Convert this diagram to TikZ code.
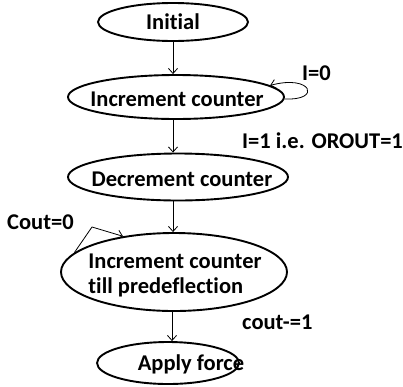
\documentclass[tikz,border=0pt]{standalone}
\usepackage{fontspec}
\setmainfont{Carlito}[Ligatures=NoCommon]
\usetikzlibrary{shapes.geometric,arrows.meta}
\begin{document}
\begin{tikzpicture}[x=1pt,y=-1pt,
  state/.style={draw,ellipse,line width=1.9pt,inner sep=0pt},
  txt/.style={font=\fontsize{22.5}{25}\selectfont\bfseries,inner sep=0pt},
  flow/.style={line width=0.8pt,-{Straight Barb[length=5pt,width=9pt]}},
]
\useasboundingbox (0,0) rectangle (403,386);

% states
\node[state,minimum width=150pt,minimum height=38pt] (init) at (173,22) {};
\node[state,minimum width=216pt,minimum height=44pt] (inc) at (176,97) {};
\node[state,minimum width=220pt,minimum height=47pt] (dec) at (178,177) {};
\node[state,minimum width=226pt,minimum height=78pt] (till) at (174,272) {};
\node[state,minimum width=142pt,minimum height=42pt] (apply) at (168,363) {};

% state texts
\node[txt] (tinit) at (173,22) {Initial};
\node[txt] (tinc) at (177,99) {Increment counter};
\node[txt] (tdec) at (182,179) {Decrement counter};
\node[txt,align=left] (ttill) at (175,275) {Increment counter\\till predeflection};
\node[txt] (tapply) at (191,364) {Apply force};

% transitions
\draw[flow] (init.south -| 173,0) -- (inc.north -| 173,0);
\draw[flow] (inc.south -| 173,0) -- (dec.north -| 173,0);
\draw[flow] (dec.south -| 173,0) -- (till.north -| 173,0);
\draw[flow] (till.south -| 172,0) -- (apply.north -| 172,0);

% self loops
\draw[flow] (inc.-1.5) .. controls (322,101) and (312,74) .. (inc.7);
\coordinate (bend) at (92,227);
\draw[flow] (till.169) -- (bend) -- (till.145);

% transition labels
\node[txt,anchor=west] (l0) at (302,73) {I=0};
\node[txt,anchor=west] (l1) at (242,141) {I=1 i.e. OROUT=1};
\node[txt,anchor=west] (l2) at (7,222) {Cout=0};
\node[txt,anchor=west] (l3) at (242,322) {cout-=1};
\end{tikzpicture}
\end{document}
